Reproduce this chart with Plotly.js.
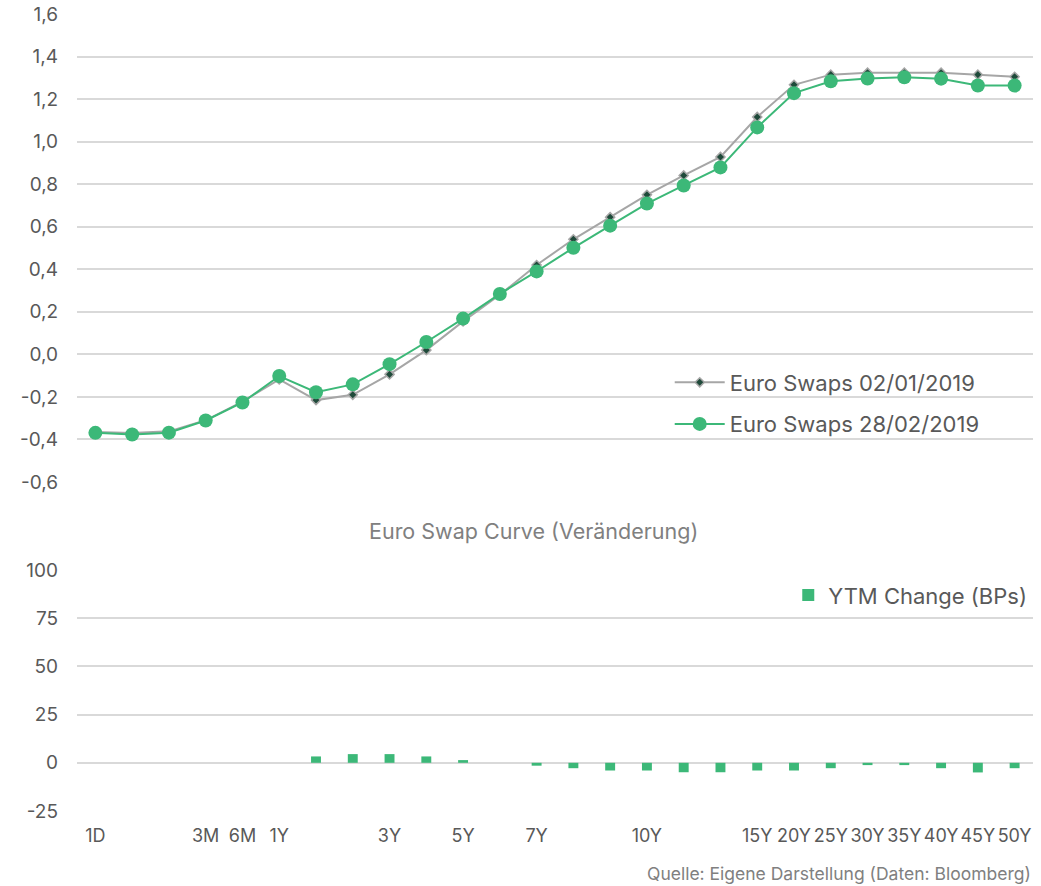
<!DOCTYPE html>
<html>
<head>
<meta charset="utf-8">
<script src="https://cdn.plot.ly/plotly-3.0.1.min.js"></script>
<style>
  body { margin: 0; background: #fff; }
  #chart { width: 1041px; height: 886px; }
</style>
</head>
<body>
<div id="chart"></div>
<script>
// maturities (x categories)
var maturities = ["1D", "1W", "1M", "3M", "6M", "1Y", "18M", "2Y", "3Y", "4Y", "5Y", "6Y", "7Y",
  "8Y", "9Y", "10Y", "11Y", "12Y", "15Y", "20Y", "25Y", "30Y", "35Y", "40Y", "45Y", "50Y"];
// only these get a label on the axis
var shownTicks = ["1D", "3M", "6M", "1Y", "3Y", "5Y", "7Y", "10Y", "15Y", "20Y", "25Y", "30Y", "35Y", "40Y", "45Y", "50Y"];

var swaps0201 = [-0.365, -0.370, -0.362, -0.310, -0.222, -0.118, -0.215, -0.190, -0.094, 0.020, 0.155,
  0.280, 0.420, 0.541, 0.645, 0.750, 0.841, 0.928, 1.116, 1.267, 1.315, 1.324, 1.324, 1.324, 1.315, 1.305];
var swaps2802 = [-0.369, -0.377, -0.368, -0.311, -0.226, -0.102, -0.178, -0.141, -0.046, 0.058, 0.168,
  0.284, 0.390, 0.501, 0.605, 0.709, 0.794, 0.879, 1.067, 1.228, 1.284, 1.297, 1.303, 1.296, 1.264, 1.264];
// change in basis points
var ytmChange = [0, 0, 0, 0, 0, 0, 3.3, 4.5, 4.5, 3.3, 1.4, 0, -1.5, -2.8, -4, -4, -4.9, -4.9,
  -4, -4, -2.8, -1.2, -1.2, -2.8, -5, -2.8];

var topTicks = [1.6, 1.4, 1.2, 1.0, 0.8, 0.6, 0.4, 0.2, 0.0, -0.2, -0.4, -0.6];
var topTickText = ["1,6", "1,4", "1,2", "1,0", "0,8", "0,6", "0,4", "0,2", "0,0", "-0,2", "-0,4", "-0,6"];
var botTicks = [100, 75, 50, 25, 0, -25];
var botTickText = ["100", "75", "50", "25", "0", "-25"];

var green = "#3cb878";
var grey = "#a6a6a6";
var textCol = "#595959";
var fontFam = "Inter, Roboto, sans-serif";

var trace1 = {
  x: maturities,
  y: swaps0201,
  type: "scatter",
  mode: "lines+markers",
  name: "Euro Swaps 02/01/2019",
  line: {color: grey, width: 2},
  marker: {symbol: "diamond", size: 7, color: "#1f4a3a", line: {color: grey, width: 1.5}},
  legendgroup: "a",
  xaxis: "x", yaxis: "y"
};

var trace2 = {
  x: maturities,
  y: swaps2802,
  type: "scatter",
  mode: "lines+markers",
  name: "Euro Swaps 28/02/2019",
  line: {color: green, width: 2},
  marker: {symbol: "circle", size: 14, color: green},
  legendgroup: "b",
  xaxis: "x", yaxis: "y"
};

var trace3 = {
  x: maturities,
  y: ytmChange,
  type: "bar",
  name: "YTM Change (BPs)",
  marker: {color: green},
  legend: "legend2",
  xaxis: "x2", yaxis: "y2"
};

var data = [trace1, trace2, trace3];

var gridCol = "#d9d9d9";

var layout = {
  width: 1041,
  height: 886,
  margin: {l: 77, r: 8, t: 14, b: 75},
  paper_bgcolor: "#fff",
  plot_bgcolor: "#fff",
  font: {family: fontFam, size: 18, color: textCol},
  bargap: 0.73,
  showlegend: true,
  xaxis: {
    type: "category",
    categoryorder: "array",
    categoryarray: maturities,
    range: [-0.5, 25.5],
    showticklabels: false,
    showgrid: false,
    zeroline: false,
    anchor: "y"
  },
  yaxis: {
    domain: [0.4128, 1],
    range: [-0.6, 1.6],
    tickvals: topTicks,
    ticktext: topTickText,
    showgrid: true,
    gridcolor: gridCol,
    gridwidth: 1.5,
    zeroline: false,
    ticklabelstandoff: 18,
    tickfont: {size: 19, color: textCol}
  },
  xaxis2: {
    type: "category",
    categoryorder: "array",
    categoryarray: maturities,
    range: [-0.5, 25.5],
    tickvals: shownTicks,
    ticktext: shownTicks,
    showgrid: false,
    zeroline: false,
    anchor: "y2",
    ticklabelstandoff: 12,
    tickfont: {size: 18, color: textCol}
  },
  yaxis2: {
    domain: [0, 0.3024],
    range: [-25, 100],
    tickvals: botTicks,
    ticktext: botTickText,
    showgrid: true,
    gridcolor: gridCol,
    gridwidth: 1.5,
    zeroline: false,
    ticklabelstandoff: 18,
    tickfont: {size: 19, color: textCol}
  },
  legend: {
    x: 0.62, y: 0.564,
    xanchor: "left", yanchor: "top",
    bgcolor: "rgba(0,0,0,0)",
    traceorder: "grouped",
    tracegroupgap: 10,
    itemwidth: 50,
    font: {size: 22, color: textCol}
  },
  legend2: {
    x: 0.744, y: 0.297,
    xanchor: "left", yanchor: "top",
    bgcolor: "rgba(0,0,0,0)",
    font: {size: 22, color: textCol}
  },
  annotations: [
    {
      text: "Euro Swap Curve (Veränderung)",
      xref: "paper", yref: "paper",
      x: 0.477, y: 0.351,
      xanchor: "center", yanchor: "middle",
      showarrow: false,
      font: {size: 21.5, color: "#808080"}
    },
    {
      text: "Quelle: Eigene Darstellung (Daten: Bloomberg)",
      xref: "paper", yref: "paper",
      x: 1.0, y: -0.078,
      xanchor: "right", yanchor: "middle",
      showarrow: false,
      font: {size: 17.5, color: "#808080"}
    }
  ]
};

Plotly.newPlot("chart", data, layout, {displayModeBar: false});
</script>
</body>
</html>
